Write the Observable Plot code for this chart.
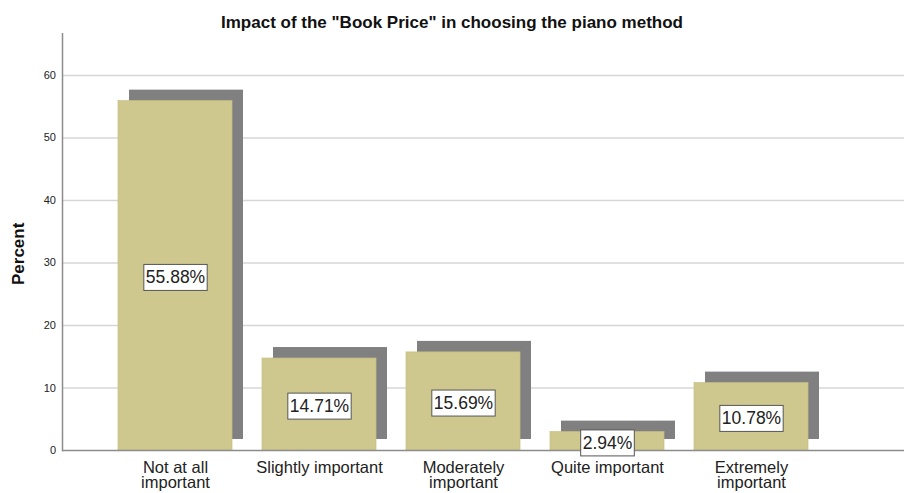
<!DOCTYPE html>
<html>
<head>
<meta charset="utf-8">
<script src="https://cdn.jsdelivr.net/npm/d3@7"></script>
<script src="https://cdn.jsdelivr.net/npm/@observablehq/plot@0.6"></script>
<style>
  html, body { margin: 0; padding: 0; background: #fff; }
  #chart { width: 904px; height: 493px; overflow: hidden; font-family: "Liberation Sans", Arial, sans-serif; }
  #title { height: 33px; box-sizing: border-box; padding-top: 13px; line-height: 18px; text-align: center;
           font: bold 17px "Liberation Sans", Arial, sans-serif; color: #111; }
</style>
</head>
<body>
<div id="chart"><div id="title"></div></div>
<script>
const chartTitle = 'Impact of the "Book Price" in choosing the piano method';
const yLabel = "Percent";
const categories = ["Not at all important", "Slightly important", "Moderately important", "Quite important", "Extremely important"];
const tickLabels = ["Not at all\nimportant", "Slightly important", "Moderately\nimportant", "Quite important", "Extremely\nimportant"];
const percents = [55.88, 14.71, 15.69, 2.94, 10.78];
const valueLabels = ["55.88%", "14.71%", "15.69%", "2.94%", "10.78%"];
const yTicks = [0, 10, 20, 30, 40, 50, 60];
const gridTicks = [10, 20, 30, 40, 50, 60];

const data = categories.map((c, i) => ({category: c, tick: tickLabels[i], value: percents[i], label: valueLabels[i]}));

document.getElementById("title").textContent = chartTitle;

const fontFamily = '"Liberation Sans", Arial, sans-serif';

const svg = Plot.plot({
  width: 904,
  height: 460,
  marginTop: 0,
  marginBottom: 43,
  marginLeft: 62,
  marginRight: 0,
  style: {fontFamily, background: "#fff", color: "#222"},
  x: {type: "band", domain: categories, axis: null, paddingInner: 0.21, paddingOuter: 0, insetLeft: 55, insetRight: 95},
  y: {domain: [0, 66.7], axis: null},
  marks: [
    Plot.ruleY(gridTicks, {stroke: "#d6d6d6", strokeWidth: 1.5}),
    Plot.barY(data, {x: "category", y: "value", fill: "#808080", dx: 11, dy: -11}),
    Plot.barY(data, {x: "category", y: "value", fill: "#cfc88e", stroke: "#c6bf83", strokeWidth: 0.7}),
    Plot.frame({anchor: "left", stroke: "#8c8c8c", strokeWidth: 1.5}),
    Plot.ruleY([0], {stroke: "#8c8c8c", strokeWidth: 1.5}),
    Plot.axisY(yTicks, {tickSize: 0, tickPadding: 6.5, fontSize: 11, label: null, fill: "#222"}),
    Plot.text(data, {x: "category", text: "tick", frameAnchor: "bottom", lineAnchor: "top", dy: 11, fontSize: 16.5, lineHeight: 0.95, fill: "#222"}),
    Plot.text([yLabel], {frameAnchor: "left", rotate: -90, dx: -44, dy: 43, fontSize: 17, fontWeight: "bold", fill: "#111"}),
    Plot.text(data, {x: "category", y: d => d.value / 2, text: "label", dy: 2, fontSize: 17.5, fill: "#222"})
  ]
});

document.getElementById("chart").appendChild(svg);

// draw white boxes behind value labels
const ns = "http://www.w3.org/2000/svg";
svg.querySelectorAll("text").forEach(t => {
  if (!valueLabels.includes(t.textContent)) return;
  const b = t.getBBox();
  const r = document.createElementNS(ns, "rect");
  const px = 2, py = 3.5;
  r.setAttribute("x", b.x - px);
  r.setAttribute("y", b.y - py + 0.5);
  r.setAttribute("width", b.width + 2 * px);
  r.setAttribute("height", b.height + 2 * py - 1);
  r.setAttribute("fill", "#fff");
  r.setAttribute("stroke", "#555");
  r.setAttribute("stroke-width", 1);
  for (const a of ["transform", "x", "y"]) {
    const v = t.getAttribute(a);
    if (v != null && a === "transform") r.setAttribute("transform", v);
  }
  t.parentNode.insertBefore(r, t);
});
</script>
</body>
</html>
